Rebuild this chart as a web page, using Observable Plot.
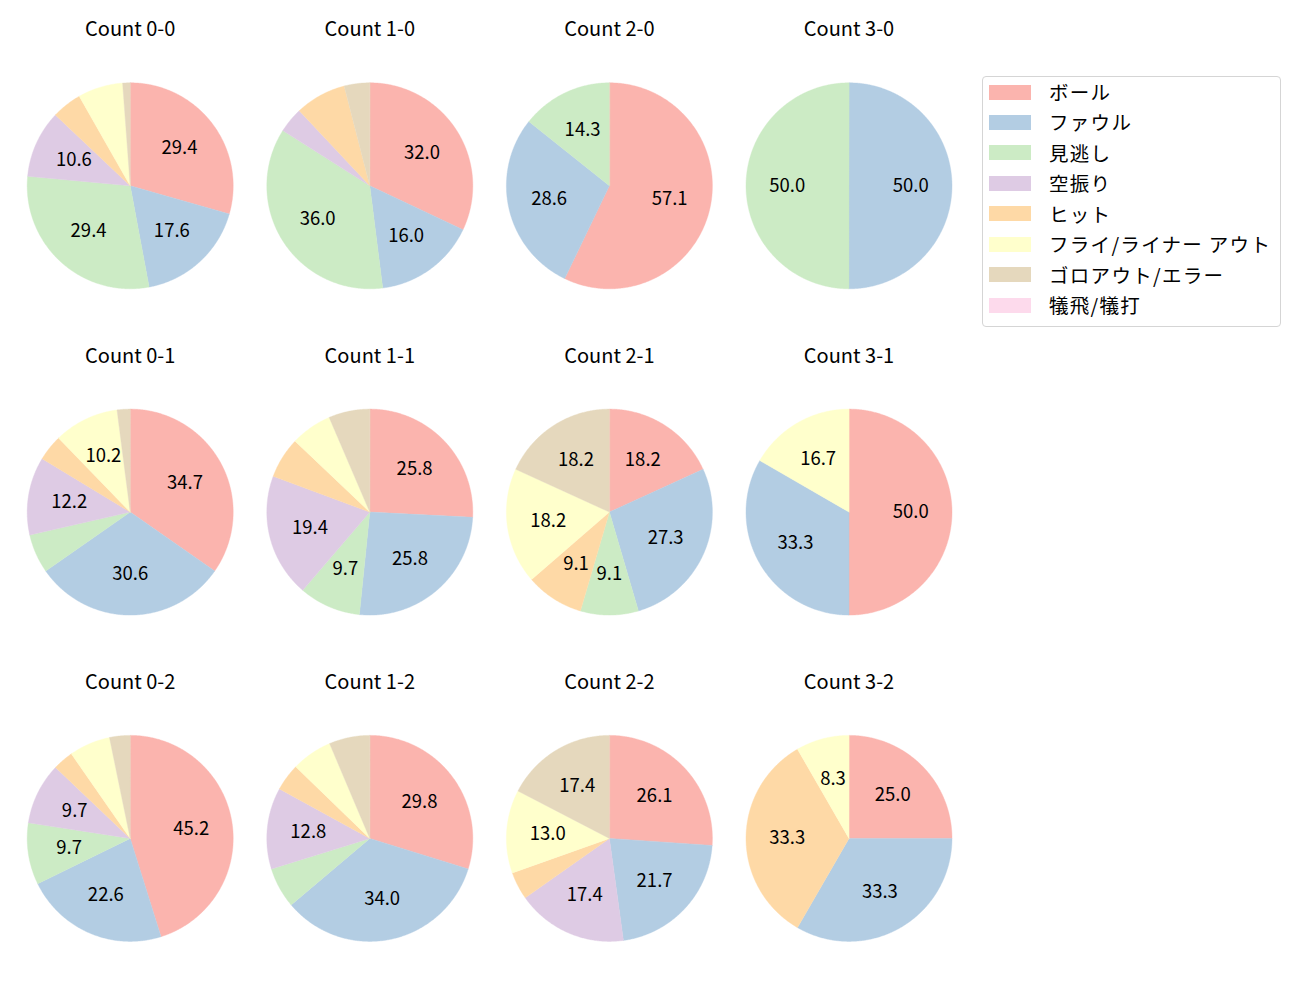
<!DOCTYPE html>
<html>
<head>
<meta charset="utf-8">
<script src="https://cdn.jsdelivr.net/npm/d3@7"></script>
<script src="https://cdn.jsdelivr.net/npm/@observablehq/plot@0.6"></script>
<style>
  html, body { margin: 0; padding: 0; background: #ffffff; }
  #wrap { position: relative; width: 1300px; height: 1000px; font-family: "Noto Sans CJK JP", sans-serif; }
  #chart { position: absolute; left: 0; top: 0; }
  #legend { position: absolute; left: 982px; top: 76px; width: 299px; height: 251px;
            border: 1px solid #d5d5d5; border-radius: 4px; background: rgba(255,255,255,0.8); box-sizing: border-box; }
  .row { position: absolute; left: 0; height: 30px; line-height: 30px; font-size: 19.5px; color: #000; white-space: nowrap; }
  .sw { position: absolute; left: 6px; top: 7.5px; width: 42px; height: 15px; }
  .lb { position: absolute; left: 66px; top: 0; letter-spacing: 1.3px; }
</style>
</head>
<body>
<div id="wrap">
  <div id="chart"></div>
  <div id="legend"></div>
</div>
<script>
// ---- data ----
const categories = ["ボール", "ファウル", "見逃し", "空振り", "ヒット", "フライ/ライナー アウト", "ゴロアウト/エラー", "犠飛/犠打"];
const colors = ["#fbb4ae", "#b3cde3", "#ccebc5", "#decbe4", "#fed9a6", "#ffffcc", "#e5d8bd", "#fddaec"];
const balls = [0, 1, 2, 3];
const strikes = [0, 1, 2];

const count_0_0 = [25, 15, 25, 9, 4, 6, 1, 0];
const count_1_0 = [8, 4, 9, 1, 2, 0, 1, 0];
const count_2_0 = [4, 2, 1, 0, 0, 0, 0, 0];
const count_3_0 = [0, 1, 1, 0, 0, 0, 0, 0];
const count_0_1 = [17, 15, 3, 6, 2, 5, 1, 0];
const count_1_1 = [8, 8, 3, 6, 2, 2, 2, 0];
const count_2_1 = [2, 3, 1, 0, 1, 2, 2, 0];
const count_3_1 = [3, 2, 0, 0, 0, 1, 0, 0];
const count_0_2 = [14, 7, 3, 3, 1, 2, 1, 0];
const count_1_2 = [14, 16, 3, 6, 2, 3, 3, 0];
const count_2_2 = [6, 5, 0, 4, 1, 3, 4, 0];
const count_3_2 = [3, 4, 0, 0, 4, 1, 0, 0];

const pies = [
  {b: 0, s: 0, values: count_0_0}, {b: 1, s: 0, values: count_1_0},
  {b: 2, s: 0, values: count_2_0}, {b: 3, s: 0, values: count_3_0},
  {b: 0, s: 1, values: count_0_1}, {b: 1, s: 1, values: count_1_1},
  {b: 2, s: 1, values: count_2_1}, {b: 3, s: 1, values: count_3_1},
  {b: 0, s: 2, values: count_0_2}, {b: 1, s: 2, values: count_1_2},
  {b: 2, s: 2, values: count_2_2}, {b: 3, s: 2, values: count_3_2}
];

// ---- geometry (unit circle, clockwise from top) ----
const pie = d3.pie().sort(null).value(d => d.v);
const wedgePts = [];
const labels = [];
const titles = [];
pies.forEach(p => {
  const total = d3.sum(p.values);
  const arcs = pie(p.values.map((v, i) => ({v, cat: categories[i]})));
  arcs.forEach((a, i) => {
    if (a.data.v <= 0) return;
    const key = `${p.b}-${p.s}-${i}`;
    const n = Math.max(2, Math.ceil((a.endAngle - a.startAngle) / (Math.PI / 360)));
    wedgePts.push({key, cat: a.data.cat, b: p.b, s: p.s, x: 0, y: 0});
    for (let k = 0; k <= n; k++) {
      const t = a.startAngle + (a.endAngle - a.startAngle) * k / n;
      wedgePts.push({key, cat: a.data.cat, b: p.b, s: p.s, x: Math.sin(t), y: Math.cos(t)});
    }
    const pct = a.data.v / total * 100;
    if (pct > 8.05) {
      const m = (a.startAngle + a.endAngle) / 2;
      labels.push({b: p.b, s: p.s, x: 0.6 * Math.sin(m), y: 0.6 * Math.cos(m), text: pct.toFixed(1)});
    }
  });
  titles.push({b: p.b, s: p.s, text: `Count ${p.b}-${p.s}`});
});

// ---- layout ----
const R = 103;          // pie radius in px
const colStep = 239.6;
const rowStep = 326.3;
const rowBand = 260;
const W = 1300, H = 1000;
const mL = 9.9;
const mR = W - mL - 4 * colStep;
const pInner = (rowStep - rowBand) / rowStep;
const mT = 185.3 - rowBand / 2;
const mB = H - mT - rowStep * (3 - pInner);
const xh = (colStep / 2) / R;
const yh = (rowBand / 2) / R;

const chart = Plot.plot({
  width: W,
  height: H,
  marginLeft: mL,
  marginRight: mR,
  marginTop: mT,
  marginBottom: mB,
  style: {fontFamily: '"Noto Sans CJK JP", sans-serif', background: "#ffffff", overflow: "visible"},
  fx: {domain: balls, paddingInner: 0, paddingOuter: 0, round: false, axis: null},
  fy: {domain: strikes, paddingInner: pInner, paddingOuter: 0, round: false, axis: null},
  x: {domain: [-xh, xh], axis: null},
  y: {domain: [-yh, yh], axis: null},
  color: {domain: categories, range: colors},
  marks: [
    Plot.line(wedgePts, {fx: "b", fy: "s", x: "x", y: "y", z: "key", fill: "cat", stroke: "cat", strokeWidth: 0.4, curve: "linear-closed"}),
    Plot.text(labels, {fx: "b", fy: "s", x: "x", y: "y", text: "text", fontSize: 18.5, fill: "#000000", letterSpacing: 0.3}),
    Plot.text(titles, {fx: "b", fy: "s", frameAnchor: "top", lineAnchor: "middle", dy: -26, text: "text", fontSize: 20, fill: "#000000", letterSpacing: 0.4})
  ]
});
document.getElementById("chart").appendChild(chart);

// ---- legend ----
const leg = document.getElementById("legend");
categories.forEach((c, i) => {
  const row = document.createElement("div");
  row.className = "row";
  row.style.top = (0 + i * 30.43) + "px";
  row.style.width = "100%";
  const sw = document.createElement("div");
  sw.className = "sw";
  sw.style.background = colors[i];
  const lb = document.createElement("div");
  lb.className = "lb";
  lb.textContent = c;
  row.appendChild(sw);
  row.appendChild(lb);
  leg.appendChild(row);
});
</script>
</body>
</html>
